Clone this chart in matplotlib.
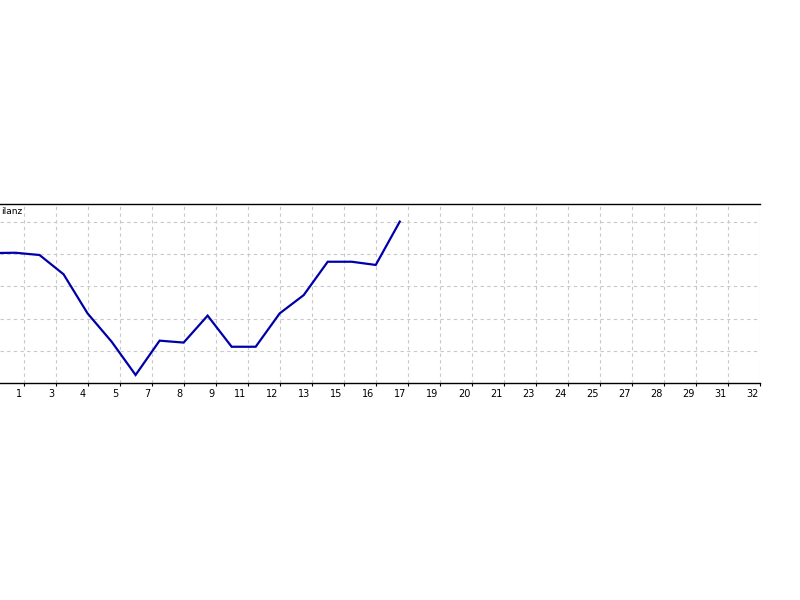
import matplotlib
matplotlib.use('Agg')
import matplotlib.pyplot as plt
import matplotlib.transforms as mtransforms

# balance after each trade (trade 0 = deposit)
trades = list(range(0, 18))
balance = [10004, 10005, 9998, 9938, 9816, 9728, 9624, 9731, 9725, 9809,
           9712, 9712, 9816, 9873, 9977, 9977, 9967, 10102]

tick_pos = [4 * (k + 1) / 3 for k in range(24)]
tick_labels = ['1', '3', '4', '5', '7', '8', '9', '11', '12', '13', '15', '16',
               '17', '19', '20', '21', '23', '24', '25', '27', '28', '29', '31', '32']
grid_y = [9700, 9800, 9900, 10000, 10100]

fig = plt.figure(figsize=(8, 6), dpi=100)
ax = fig.add_axes([0.0, 1 - 383 / 600, 760 / 800, 179 / 600])

ax.plot(trades, balance, color='#0000aa', linewidth=1.6, solid_joinstyle='miter')

ax.set_xlim(8.5 / 24, 32.0)
ax.set_ylim(9599, 10157)

ax.set_xticks(tick_pos)
ax.set_xticklabels(tick_labels, fontsize=7)
ax.set_yticks(grid_y)
ax.set_yticklabels([])
ax.tick_params(axis='y', length=0)
ax.tick_params(axis='x', length=2.5, width=0.8, direction='out', pad=1.5, color='black')

offset = mtransforms.ScaledTranslation(-1.5 / 100, 0, fig.dpi_scale_trans)
for lab in ax.get_xticklabels():
    lab.set_horizontalalignment('right')
    lab.set_transform(lab.get_transform() + offset)

ax.grid(True, color='#c8c8c8', linestyle=(0, (3, 3)), linewidth=0.8)

ax.spines['left'].set_visible(False)
ax.spines['right'].set_visible(False)
ax.spines['top'].set_linewidth(1.0)
ax.spines['bottom'].set_linewidth(1.0)

# the label is cropped on the left in the reference, only "ilanz" shows
fig.text(1 / 800, 1 - 212 / 600, 'ilanz', fontsize=6.5, va='center', ha='left')

fig.savefig('out.png', dpi=100)
